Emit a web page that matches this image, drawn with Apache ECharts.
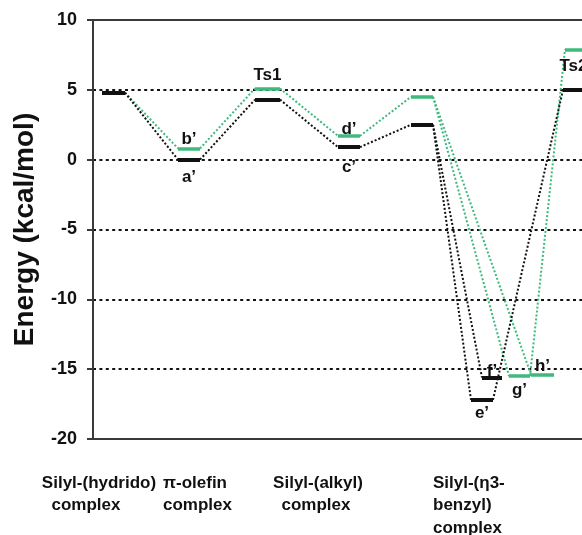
<!DOCTYPE html>
<html>
<head>
<meta charset="utf-8">
<script src="https://cdn.jsdelivr.net/npm/echarts@6/dist/echarts.min.js"></script>
<style>
  html, body { margin: 0; padding: 0; background: #ffffff; }
  #chart { width: 582px; height: 535px; }
</style>
</head>
<body>
<div id="chart"></div>
<script>
// Energy levels along the reaction coordinate (kcal/mol)
// Horizontal extent of each level on the reaction coordinate
const blackStart  = [9, 85, 162, 245, 318, 378, 389, 470];
const blackEnd    = [32, 107, 187, 267, 340, 400, 409, 489];
const blackEnergy = [4.8, 0.0, 4.3, 0.9, 2.5, -17.2, -15.6, 5.0];
const blackNames  = ['', 'a’', '', 'c’', '', 'e’', 'f’', ''];

const greenStart  = [9, 85, 162, 245, 318, 416, 438, 472];
const greenEnd    = [32, 107, 187, 267, 340, 437, 461, 489];
const greenEnergy = [4.8, 0.8, 5.1, 1.7, 4.5, -15.5, -15.4, 7.9];
const greenNames  = ['', 'b’', 'Ts1', 'd’', '', 'g’', 'h’', 'Ts2'];

// Pathways between levels: [from, to] (right end of "from" to left end of "to")
const pathLinks = [[0, 1], [1, 2], [2, 3], [3, 4], [4, 5], [4, 6], [5, 7]];

// Stage captions under the axis
const stageLines = [
  ['Silyl-(hydrido)', 'complex'],
  ['π-olefin', 'complex'],
  ['Silyl-(alkyl)', 'complex'],
  ['Silyl-(η3-', 'benzyl)', 'complex']
];

const yTicks = { min: -20, max: 10, step: 5 };
const xRange = { min: 0, max: 489 };

// ---- styling ----
const BLACK = '#111111';
const GREEN = '#3fb97c';
const AXIS = '#3a3a3a';
const FONT = '"Liberation Sans", Arial, sans-serif';

// label placement per level: side ('top'/'bottom') and gap
const blackLabelSide = ['', 'bottom', '', 'bottom', '', 'bottom', 'top', ''];
const blackLabelGap  = [0, 9, 0, 12, 0, 5, -2, 0];
const greenLabelSide = ['', 'top', 'top', 'top', '', 'bottom', 'top', 'bottom'];
const greenLabelGap  = [0, 1, 5, -2, 0, 6, 0, 8];

function levelData(starts, ends, energies, names, sides, gaps) {
  return energies.map((e, i) => {
    const item = { coords: [[starts[i], e], [ends[i], e]], name: names[i] };
    if (names[i]) {
      item.label = {
        show: true,
        position: sides[i] === 'top' ? 'insideMiddleTop' : 'insideMiddleBottom',
        distance: gaps[i]
      };
    }
    return item;
  });
}

function linkData(starts, ends, energies) {
  return pathLinks.map(([a, b]) => ({
    coords: [[ends[a], energies[a]], [starts[b], energies[b]]]
  }));
}

const chart = echarts.init(document.getElementById('chart'));

const levelLabel = {
  show: false,
  formatter: '{b}',
  color: BLACK,
  fontFamily: FONT,
  fontWeight: 'bold',
  fontSize: 17
};

const frameLine = { show: true, onZero: false, lineStyle: { color: AXIS, width: 2 } };

chart.setOption({
  animation: false,
  backgroundColor: '#ffffff',
  grid: { left: 93, top: 20, right: 0, height: 419 },
  xAxis: [
    {
      type: 'value', min: xRange.min, max: xRange.max, position: 'bottom',
      axisLine: frameLine, axisTick: { show: false }, axisLabel: { show: false },
      splitLine: { show: false }
    },
    {
      type: 'value', min: xRange.min, max: xRange.max, position: 'top',
      axisLine: frameLine, axisTick: { show: false }, axisLabel: { show: false },
      splitLine: { show: false }
    }
  ],
  yAxis: {
    type: 'value',
    min: yTicks.min, max: yTicks.max, interval: yTicks.step,
    name: 'Energy (kcal/mol)',
    nameLocation: 'middle',
    nameGap: 54,
    nameTextStyle: { fontFamily: FONT, fontWeight: 'bold', fontSize: 28, color: BLACK },
    axisLine: { show: true, onZero: false, lineStyle: { color: AXIS, width: 2 } },
    axisTick: { show: true, inside: false, length: 6, lineStyle: { color: AXIS, width: 2 } },
    axisLabel: { margin: 16, fontFamily: FONT, fontWeight: 'bold', fontSize: 18, color: BLACK },
    splitLine: {
      show: true,
      lineStyle: { color: BLACK, width: 2, type: [3, 3.4] }
    }
  },
  series: [
    {
      type: 'lines', coordinateSystem: 'cartesian2d', silent: true, z: 2,
      lineStyle: { color: GREEN, width: 2, type: [2, 2], opacity: 1 },
      data: linkData(greenStart, greenEnd, greenEnergy)
    },
    {
      type: 'lines', coordinateSystem: 'cartesian2d', silent: true, z: 3,
      lineStyle: { color: BLACK, width: 2, type: [2, 2], opacity: 1 },
      data: linkData(blackStart, blackEnd, blackEnergy)
    },
    {
      type: 'lines', coordinateSystem: 'cartesian2d', silent: true, z: 4,
      lineStyle: { color: GREEN, width: 3.5, type: 'solid', opacity: 1, cap: 'butt' },
      label: levelLabel,
      data: levelData(greenStart, greenEnd, greenEnergy, greenNames, greenLabelSide, greenLabelGap)
    },
    {
      type: 'lines', coordinateSystem: 'cartesian2d', silent: true, z: 5,
      lineStyle: { color: BLACK, width: 4, type: 'solid', opacity: 1, cap: 'butt' },
      label: levelLabel,
      data: levelData(blackStart, blackEnd, blackEnergy, blackNames, blackLabelSide, blackLabelGap)
    }
  ]
});

// stage captions: anchor x for each line and text alignment
const stageAnchor = [[99, 86], [163, 163], [318, 316], [433, 433, 433]];
const stageAlign = ['center', 'left', 'center', 'left'];
const captionTop = 483;
const captionLine = 22.5;

const captions = [];
stageLines.forEach((lines, s) => {
  lines.forEach((txt, k) => {
    captions.push({
      type: 'text',
      x: stageAnchor[s][k],
      y: captionTop + k * captionLine,
      silent: true,
      style: {
        text: txt,
        fill: BLACK,
        font: 'bold 17px ' + FONT,
        align: stageAlign[s],
        verticalAlign: 'middle'
      }
    });
  });
});
chart.setOption({ graphic: captions });
</script>
</body>
</html>
